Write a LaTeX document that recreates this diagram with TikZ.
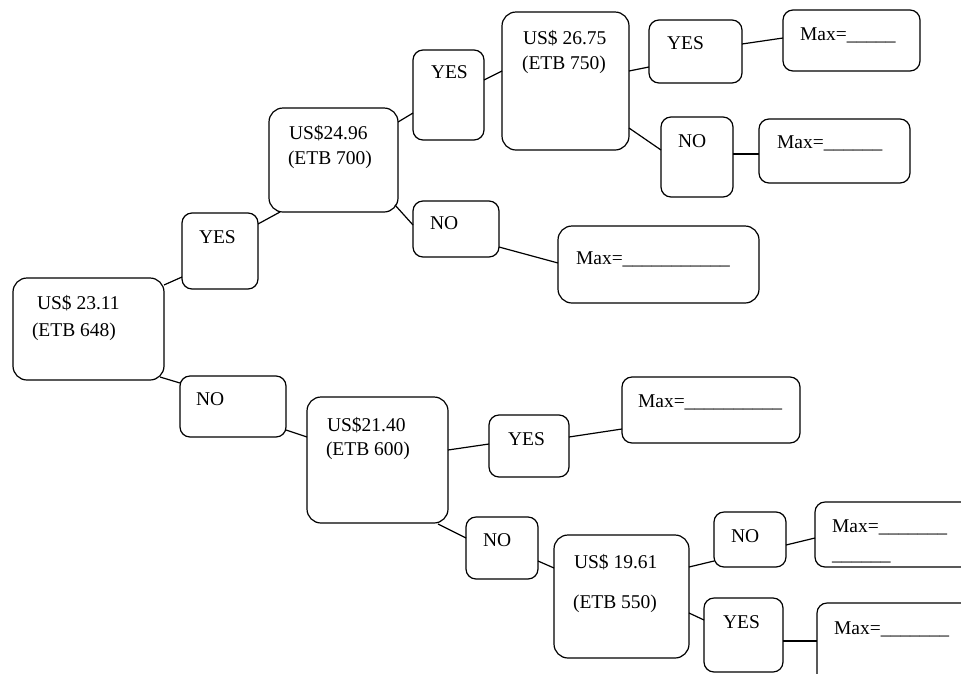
\documentclass[tikz,border=0pt]{standalone}
\usepackage{fontspec}
\setmainfont{Liberation Serif}
\begin{document}
\begin{tikzpicture}[x=1pt,y=-1pt,
  bx/.style={draw=black, line width=1.2pt, rounded corners=14pt, inner sep=0pt, outer sep=0pt, anchor=north west},
  sbx/.style={bx, rounded corners=10pt},
  lbl/.style={inner sep=0pt, outer sep=0pt, anchor=base west, font=\fontsize{19.5}{23}\selectfont},
  con/.style={line width=1.2pt}]
\useasboundingbox (0,0) rectangle (961,673);
% boxes
\node[bx, minimum width=151, minimum height=102] (r) at (13,278) {};
\node[sbx, minimum width=76, minimum height=76] (y1) at (182,213) {};
\node[sbx, minimum width=106, minimum height=61] (n1) at (180,376) {};
\node[bx, minimum width=129, minimum height=104] (a) at (269,108) {};
\node[sbx, minimum width=71, minimum height=90] (y2) at (413,50) {};
\node[bx, minimum width=127, minimum height=138] (b) at (502,12) {};
\node[sbx, minimum width=93, minimum height=63] (y3) at (649,20) {};
\node[sbx, minimum width=137, minimum height=61] (m1) at (783,10) {};
\node[sbx, minimum width=72, minimum height=80] (n3) at (661,117) {};
\node[sbx, minimum width=151, minimum height=64] (m2) at (759,119) {};
\node[sbx, minimum width=86, minimum height=56] (n2) at (413,201) {};
\node[bx, minimum width=201, minimum height=77] (m3) at (558,226) {};
\node[bx, minimum width=141, minimum height=126] (c) at (307,397) {};
\node[sbx, minimum width=80, minimum height=62] (y4) at (489,415) {};
\node[sbx, minimum width=178, minimum height=66] (m4) at (622,377) {};
\node[sbx, minimum width=72, minimum height=62] (n4) at (466,517) {};
\node[bx, minimum width=135, minimum height=123] (d) at (554,535) {};
\node[sbx, minimum width=72, minimum height=55] (n5) at (714,512) {};
\node[sbx, minimum width=160, minimum height=65] (m5) at (815,502) {};
\node[sbx, minimum width=79, minimum height=74] (y5) at (704,598) {};
\node[sbx, minimum width=160, minimum height=90] (m6) at (817,603) {};
% texts
\node[lbl] (rt1) at (37,309) {US\$ 23.11};
\node[lbl] (rt2) at (32,336) {(ETB 648)};
\node[lbl] (y1t) at (199,243) {YES};
\node[lbl] (n1t) at (196,405) {NO};
\node[lbl] (at1) at (289,139) {US\$24.96};
\node[lbl] (at2) at (288,164) {(ETB 700)};
\node[lbl] (y2t) at (431,78) {YES};
\node[lbl] (bt1) at (523,44) {US\$ 26.75};
\node[lbl] (bt2) at (522,69) {(ETB 750)};
\node[lbl] (y3t) at (667,49) {YES};
\node[lbl] (m1t) at (800,40) {Max=\_\_\_\_\_};
\node[lbl] (n3t) at (678,147) {NO};
\node[lbl] (m2t) at (777,148) {Max=\_\_\_\_\_\_};
\node[lbl] (n2t) at (430,229) {NO};
\node[lbl] (m3t) at (576,264) {Max=\_\_\_\_\_\_\_\_\_\_\_};
\node[lbl] (ct1) at (327,431) {US\$21.40};
\node[lbl] (ct2) at (326,455) {(ETB 600)};
\node[lbl] (y4t) at (508,445) {YES};
\node[lbl] (m4t) at (638,407) {Max=\_\_\_\_\_\_\_\_\_\_};
\node[lbl] (n4t) at (483,546) {NO};
\node[lbl] (dt1) at (574,568) {US\$ 19.61};
\node[lbl] (dt2) at (573,608) {(ETB 550)};
\node[lbl] (n5t) at (731,542) {NO};
\node[lbl] (m5t1) at (832,532) {Max=\_\_\_\_\_\_\_};
\node[lbl] (m5t2) at (832,560) {\_\_\_\_\_\_};
\node[lbl] (y5t) at (723,628) {YES};
\node[lbl] (m6t) at (834,634) {Max=\_\_\_\_\_\_\_};
% connectors
\draw[con] ([yshift=-7pt]r.north east) -- ([yshift=-64pt]y1.north west);
\draw[con] ([xshift=-4pt,yshift=3pt]r.south east) -- ([yshift=-7pt]n1.north west);
\draw[con] ([yshift=-11pt]y1.north east) -- ([xshift=11pt]a.south west);
\draw[con] ([yshift=-14pt]a.north east) -- ([yshift=-63pt]y2.north west);
\draw[con] ([yshift=-30pt]y2.north east) -- ([yshift=-59pt]b.north west);
\draw[con] ([xshift=-3pt,yshift=7pt]a.south east) -- ([yshift=-24pt]n2.north west);
\draw[con] ([yshift=-46pt]n2.north east) -- ([yshift=-37pt]m3.north west);
\draw[con] ([yshift=-59pt]b.north east) -- ([yshift=-47pt]y3.north west);
\draw[con] ([yshift=-24pt]y3.north east) -- ([yshift=-28pt]m1.north west);
\draw[con] ([yshift=-116pt]b.north east) -- ([yshift=-33pt]n3.north west);
\draw[con] ([yshift=-37pt]n3.north east) -- ([yshift=-35pt]m2.north west);
\draw[con] ([yshift=-54pt]n1.north east) -- ([yshift=-40pt]c.north west);
\draw[con] ([yshift=-53pt]c.north east) -- ([yshift=-29pt]y4.north west);
\draw[con] ([xshift=-10pt,yshift=-1pt]c.south east) -- ([yshift=-21pt]n4.north west);
\draw[con] ([yshift=-22pt]y4.north east) -- ([yshift=-52pt]m4.north west);
\draw[con] ([yshift=-44pt]n4.north east) -- ([yshift=-33pt]d.north west);
\draw[con] ([yshift=-32pt]d.north east) -- ([yshift=-49pt]n5.north west);
\draw[con] ([yshift=-33pt]n5.north east) -- ([yshift=-36pt]m5.north west);
\draw[con] ([yshift=-78pt]d.north east) -- ([yshift=-22pt]y5.north west);
\draw[con] ([yshift=-43pt]y5.north east) -- ([yshift=-38pt]m6.north west);
\end{tikzpicture}
\end{document}
